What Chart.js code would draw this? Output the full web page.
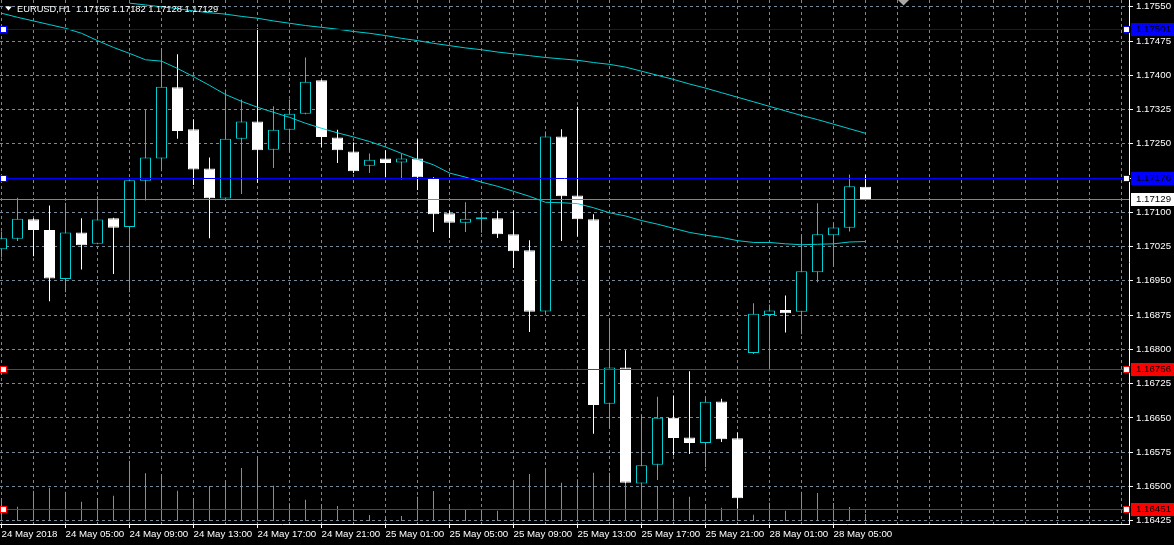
<!DOCTYPE html>
<html>
<head>
<meta charset="utf-8">
<script src="https://cdn.jsdelivr.net/npm/chart.js@4.4.1/dist/chart.umd.min.js"></script>
<style>
  html, body { margin: 0; padding: 0; background: #000; overflow: hidden; }
  canvas { display: block; }
</style>
</head>
<body>
<canvas id="chart" width="1174" height="545"></canvas>
<script>
// EURUSD H1 candles, one entry per hour starting 24 May 2018
const symbol = 'EURUSD,H1';
const timeLabels = [
    '24 May 2018', '24 May 05:00', '24 May 09:00', '24 May 13:00', '24 May 17:00',
    '24 May 21:00', '25 May 01:00', '25 May 05:00', '25 May 09:00', '25 May 13:00',
    '25 May 17:00', '25 May 21:00', '28 May 01:00', '28 May 05:00'
];
const opens = [
    1.17019, 1.17042, 1.17085, 1.17061, 1.16954, 1.17056, 1.17031, 1.17087, 1.17068, 1.17169,
    1.17218, 1.17374, 1.17282, 1.17196, 1.17130, 1.17261, 1.17299, 1.17237, 1.17281, 1.17316,
    1.17389, 1.17264, 1.17233, 1.17202, 1.17218, 1.17209, 1.17218, 1.17175, 1.17098, 1.17077,
    1.17085, 1.17087, 1.17052, 1.17017, 1.16883, 1.17266, 1.17137, 1.17085, 1.16681, 1.16760,
    1.16506, 1.16547, 1.16650, 1.16607, 1.16595, 1.16686, 1.16605, 1.16792, 1.16875, 1.16886,
    1.16882, 1.16969, 1.17050, 1.17066, 1.17156
];
const highs = [
    1.17058, 1.17132, 1.17087, 1.17115, 1.17121, 1.17087, 1.17135, 1.17088, 1.17172, 1.17325,
    1.17458, 1.17446, 1.17304, 1.17220, 1.17369, 1.17347, 1.17503, 1.17332, 1.17347, 1.17439,
    1.17390, 1.17281, 1.17253, 1.17229, 1.17236, 1.17229, 1.17260, 1.17177, 1.17104, 1.17122,
    1.17107, 1.17104, 1.17104, 1.17039, 1.17277, 1.17282, 1.17331, 1.17096, 1.16867, 1.16798,
    1.16658, 1.16696, 1.16699, 1.16752, 1.16697, 1.16692, 1.16618, 1.16901, 1.16898, 1.16918,
    1.17051, 1.17120, 1.17075, 1.17183, 1.17182
];
const lows = [
    1.17001, 1.17037, 1.17004, 1.16905, 1.16925, 1.16975, 1.17030, 1.16965, 1.16925, 1.17126,
    1.17190, 1.17261, 1.17160, 1.17043, 1.17128, 1.17140, 1.17165, 1.17197, 1.17232, 1.17315,
    1.17242, 1.17208, 1.17186, 1.17186, 1.17177, 1.17172, 1.17149, 1.17057, 1.17044, 1.17057,
    1.17055, 1.17044, 1.16978, 1.16838, 1.16876, 1.17037, 1.17047, 1.16615, 1.16626, 1.16507,
    1.16505, 1.16514, 1.16568, 1.16571, 1.16542, 1.16597, 1.16451, 1.16790, 1.16758, 1.16837,
    1.16833, 1.16947, 1.16980, 1.17058, 1.17128
];
const closes = [
    1.17043, 1.17086, 1.17061, 1.16955, 1.17056, 1.17028, 1.17084, 1.17066, 1.17170, 1.17220,
    1.17375, 1.17278, 1.17194, 1.17131, 1.17261, 1.17299, 1.17236, 1.17281, 1.17316, 1.17386,
    1.17265, 1.17236, 1.17190, 1.17215, 1.17208, 1.17218, 1.17177, 1.17096, 1.17077, 1.17086,
    1.17089, 1.17052, 1.17015, 1.16882, 1.17266, 1.17135, 1.17085, 1.16678, 1.16760, 1.16508,
    1.16546, 1.16650, 1.16606, 1.16595, 1.16685, 1.16603, 1.16474, 1.16878, 1.16885, 1.16879,
    1.16971, 1.17052, 1.17067, 1.17157, 1.17129
];
// tick volumes
const volumes = [
    1050, 715, 1515, 1665, 1465, 965, 1150, 1265, 3015, 2385,
    2335, 1515, 1150, 1750, 2050, 2650, 3250, 1765, 885, 1065,
    835, 750, 550, 300, 250, 250, 1215, 1500, 850, 565,
    550, 515, 2050, 2350, 2650, 1915, 2085, 2415, 2415, 2915,
    2450, 1750, 1150, 1215, 850, 665, 450, 315, 915, 515,
    1465, 1400, 900, 700, 350
];
// moving averages
const maFast = [
    1.17536, 1.17527, 1.17519, 1.17511, 1.17503, 1.17492, 1.17476, 1.17461, 1.17448, 1.17434,
    1.17431, 1.17415, 1.17397, 1.17378, 1.17358, 1.17343, 1.17330, 1.17319, 1.17308, 1.17295,
    1.17284, 1.17274, 1.17265, 1.17255, 1.17243, 1.17229, 1.17216, 1.17204, 1.17186, 1.17177,
    1.17166, 1.17157, 1.17146, 1.17135, 1.17122, 1.17121, 1.17119, 1.17110, 1.17099, 1.17092,
    1.17082, 1.17074, 1.17065, 1.17056, 1.17050, 1.17045, 1.17038, 1.17034, 1.17034, 1.17031,
    1.17029, 1.17030, 1.17031, 1.17035, 1.17036
];
const maSlowStart = 8;
const maSlow = [
    1.17558, 1.17554, 1.17550, 1.17546, 1.17541, 1.17537, 1.17534, 1.17529, 1.17525, 1.17519,
    1.17514, 1.17509, 1.17505, 1.17501, 1.17496, 1.17492, 1.17487, 1.17481, 1.17476, 1.17470,
    1.17465, 1.17460, 1.17456, 1.17451, 1.17447, 1.17443, 1.17439, 1.17436, 1.17433, 1.17428,
    1.17424, 1.17418, 1.17409, 1.17400, 1.17391, 1.17381, 1.17372, 1.17362, 1.17352, 1.17342,
    1.17332, 1.17322, 1.17312, 1.17303, 1.17293, 1.17283, 1.17273
];
const priceTicks = [
    1.16425, 1.16500, 1.16575, 1.16650, 1.16725, 1.16800, 1.16875, 1.16950,
    1.17025, 1.17100, 1.17175, 1.17250, 1.17325, 1.17400, 1.17475, 1.17550
];
const blueLevels = [1.17501, 1.17176];
const redLevels = [1.16756, 1.16451];
const bidPrice = 1.17129;

const BULL = '#00CED1';
const BEAR = '#FFFFFF';
const GRID = '#778899';
const FONT = { family: "'Liberation Sans', Arial, sans-serif", size: 9.7 };

const isBull = i => closes[i] >= opens[i];
const last = opens.length - 1;

// horizontal objects, handles, axis price boxes and the chart header
const overlay = {
    id: 'overlay',
    afterDatasetsDraw(chart) {
        const { ctx, chartArea: a, scales: { y } } = chart;
        const row = v => Math.round(y.getPixelForValue(v)) + 0.5;
        ctx.save();
        ctx.lineWidth = 1;
        const hline = (v, color) => {
            ctx.strokeStyle = color;
            ctx.beginPath();
            ctx.moveTo(a.left, row(v));
            ctx.lineTo(a.right, row(v));
            ctx.stroke();
        };
        hline(bidPrice, GRID);
        blueLevels.forEach(v => hline(v, '#0000FF'));
        redLevels.forEach(v => hline(v, '#FF0000'));

        const handle = (x, v, color) => {
            const py = row(v);
            ctx.fillStyle = '#FFFFFF';
            ctx.fillRect(x - 2, py - 2.5, 5, 5);
            ctx.strokeStyle = color;
            ctx.strokeRect(x - 2.5, py - 3, 6, 6);
        };
        blueLevels.forEach(v => { handle(a.left + 3, v, '#0000FF'); handle(a.right - 3, v, '#0000FF'); });
        redLevels.forEach(v => { handle(a.left + 3, v, '#FF0000'); handle(a.right - 3, v, '#FF0000'); });
        ctx.restore();
    },
    afterDraw(chart) {
        const { ctx, chartArea: a, scales: { y } } = chart;
        ctx.save();
        ctx.font = FONT.size + 'px ' + FONT.family;
        ctx.textBaseline = 'middle';
        const box = (v, bg, fg) => {
            const py = Math.round(y.getPixelForValue(v));
            ctx.fillStyle = bg;
            ctx.fillRect(a.right + 2, py - 6, 45, 13);
            ctx.fillStyle = fg;
            ctx.textAlign = 'left';
            ctx.fillText(v.toFixed(5), a.right + 7, py + 0.5);
        };
        blueLevels.forEach(v => box(v, '#0000FF', '#000000'));
        redLevels.forEach(v => box(v, '#FF0000', '#000000'));
        box(bidPrice, '#FFFFFF', '#000000');

        // header
        ctx.fillStyle = '#FFFFFF';
        ctx.beginPath();
        ctx.moveTo(5, 6.5); ctx.lineTo(12, 6.5); ctx.lineTo(8.5, 10.5);
        ctx.closePath();
        ctx.fill();
        ctx.font = '9.3px ' + FONT.family;
        const head = symbol + '  ' + [opens[last], highs[last], lows[last], closes[last]]
            .map(v => v.toFixed(5)).join(' ');
        ctx.fillText(head, 17, 9);

        // chart shift marker
        ctx.fillStyle = '#A9A9A9';
        ctx.beginPath();
        ctx.moveTo(898, 0); ctx.lineTo(909, 0); ctx.lineTo(903.5, 5.5);
        ctx.closePath();
        ctx.fill();
        ctx.restore();
    }
};

new Chart(document.getElementById('chart'), {
    type: 'bar',
    data: {
        datasets: [
            {
                type: 'line', label: 'MA fast',
                data: maFast.map((v, i) => ({ x: i, y: v })),
                borderColor: BULL, borderWidth: 1, pointRadius: 0, tension: 0, order: 0
            },
            {
                type: 'line', label: 'MA slow',
                data: maSlow.map((v, i) => ({ x: i + maSlowStart, y: v })),
                borderColor: BULL, borderWidth: 1, pointRadius: 0, tension: 0, order: 0
            },
            {
                label: 'body',
                data: opens.map((o, i) => ({ x: i, y: [o, closes[i]] })),
                backgroundColor: opens.map((o, i) => isBull(i) ? '#000000' : BEAR),
                borderColor: opens.map((o, i) => isBull(i) ? BULL : BEAR),
                borderWidth: 1, borderSkipped: false,
                barThickness: 11, grouped: false, inflateAmount: 0, order: 1
            },
            {
                label: 'wick',
                data: lows.map((l, i) => ({ x: i, y: [l, highs[i]] })),
                backgroundColor: opens.map((o, i) => isBull(i) ? BULL : BEAR),
                borderWidth: 0,
                barThickness: 1, grouped: false, inflateAmount: 0, order: 2
            },
            {
                label: 'volume', yAxisID: 'yv',
                data: volumes.map((v, i) => ({ x: i, y: v })),
                backgroundColor: '#32CD32',
                borderWidth: 0,
                barThickness: 1, grouped: false, inflateAmount: 0, order: 3
            }
        ]
    },
    options: {
        responsive: false,
        animation: false,
        events: [],
        layout: { padding: 0 },
        plugins: { legend: { display: false }, tooltip: { enabled: false } },
        scales: {
            x: {
                type: 'linear',
                position: 'bottom',
                offset: false,
                min: -0.09375,
                max: 70.46875,
                afterBuildTicks: s => { s.ticks = Array.from({ length: 36 }, (_, j) => ({ value: j * 2 })); },
                afterFit: s => { s.height = 21; s.paddingLeft = 0; s.paddingRight = 0; },
                ticks: {
                    autoSkip: false, maxRotation: 0, minRotation: 0,
                    align: 'start', padding: 1,
                    color: '#FFFFFF', font: FONT,
                    callback: v => (v % 4 === 0 && v / 4 < timeLabels.length) ? timeLabels[v / 4] : ''
                },
                grid: {
                    offset: false,
                    color: GRID, lineWidth: 1, tickLength: 4,
                    tickColor: c => (c.tick && c.tick.value % 4 === 0 && c.tick.value / 4 < timeLabels.length) ? '#FFFFFF' : 'rgba(0,0,0,0)'
                },
                border: { display: true, color: '#FFFFFF', width: 1, dash: [3, 3] }
            },
            y: {
                type: 'linear',
                position: 'right',
                min: 1.164175,
                max: 1.175649,
                afterBuildTicks: s => { s.ticks = priceTicks.map(v => ({ value: v })); },
                afterFit: s => { s.width = 45; s.paddingTop = 0; s.paddingBottom = 0; },
                ticks: {
                    padding: 3, color: '#FFFFFF', font: FONT,
                    callback: v => v.toFixed(5)
                },
                grid: { color: GRID, lineWidth: 1, tickLength: 4, tickColor: '#FFFFFF' },
                border: { display: true, color: '#FFFFFF', width: 1, dash: [3, 3] }
            },
            yv: {
                type: 'linear',
                display: false,
                min: -150,
                max: 26050
            }
        }
    },
    plugins: [overlay]
});
</script>
</body>
</html>
